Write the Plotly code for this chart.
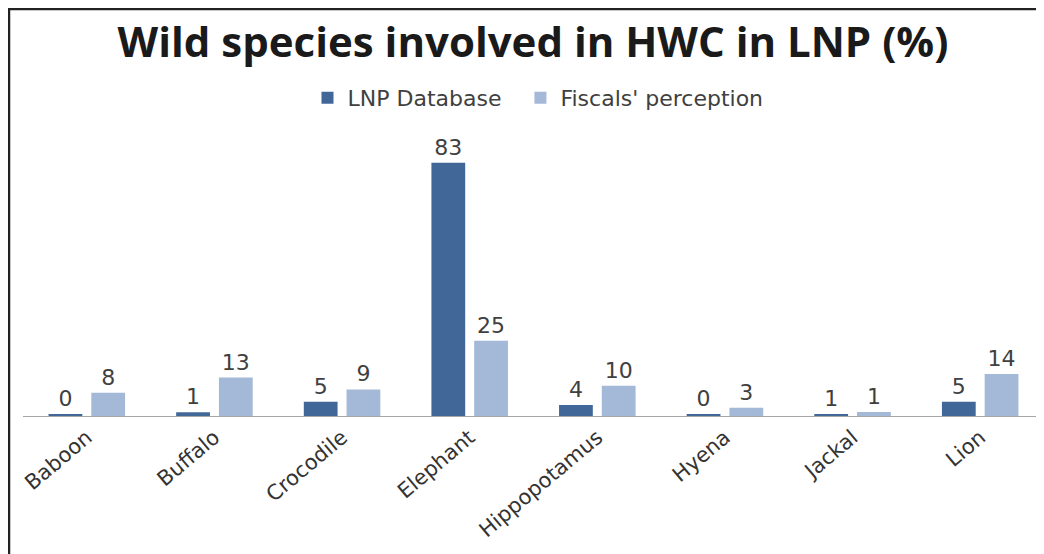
import plotly.graph_objects as go

categories = ["Baboon", "Buffalo", "Crocodile", "Elephant", "Hippopotamus", "Hyena", "Jackal", "Lion"]
lnp_values = [0.6, 1.2, 4.7, 83, 3.6, 0.5, 0.6, 4.7]
lnp_labels = ["0", "1", "5", "83", "4", "0", "1", "5"]
fiscal_values = [7.6, 12.6, 8.7, 24.7, 9.9, 2.7, 1.3, 13.8]
fiscal_labels = ["8", "13", "9", "25", "10", "3", "1", "14"]

DARK = "#416799"
LIGHT = "#a4b8d8"
TXT = "#404040"

fig = go.Figure()
fig.add_trace(go.Bar(
    x=categories, y=lnp_values, name="LNP Database\u00a0\u00a0",
    marker=dict(color=DARK, line=dict(width=0)),
    text=lnp_labels, textposition="outside", cliponaxis=False,
    textfont=dict(family="DejaVu Sans", size=22, color=TXT),
))
fig.add_trace(go.Bar(
    x=categories, y=fiscal_values, name="Fiscals' perception",
    marker=dict(color=LIGHT, line=dict(width=0)),
    text=fiscal_labels, textposition="outside", cliponaxis=False,
    textfont=dict(family="DejaVu Sans", size=22, color=TXT),
))

# page has an 8px body margin, so the figure is drawn at (8, 8)
W, H = 1036, 546
L, T, B = 15, 132, 138
pw = W - L
ph = H - T - B

def px_x(x):
    return (x - L) / pw

def px_y(y):
    return (H - B - y) / ph

fig.update_layout(
    width=W, height=H,
    margin=dict(l=L, r=0, t=T, b=B, pad=0),
    paper_bgcolor="white", plot_bgcolor="white",
    barmode="group", bargap=0.33, bargroupgap=0.21,
    title=dict(
        text="<b>Wild species involved in HWC in LNP (%)</b>",
        font=dict(family="Open Sans", size=42, color="#1a1a1a"),
        x=525 / W, xanchor="center", y=1 - 34 / H, yanchor="middle",
        xref="container", yref="container",
    ),
    legend=dict(
        orientation="h", x=px_x(530), xanchor="center",
        y=px_y(90), yanchor="middle",
        font=dict(family="DejaVu Sans", size=22, color=TXT),
        bgcolor="rgba(0,0,0,0)",
    ),
    showlegend=True,
    xaxis=dict(
        showline=True, linecolor="#a6a6a6", linewidth=1,
        showgrid=False, ticks="", tickangle=-40,
        tickfont=dict(family="DejaVu Sans", size=21, color="#333333"),
        range=[-0.5, 7.5],
    ),
    yaxis=dict(
        visible=False, range=[0, (H - B - T) / 3.05], showgrid=False, zeroline=False,
    ),
    shapes=[
        dict(type="line", xref="paper", yref="paper",
             x0=px_x(1), x1=px_x(1), y0=px_y(0), y1=px_y(H + 10),
             line=dict(color="#222222", width=2.5)),
        dict(type="line", xref="paper", yref="paper",
             x0=px_x(0), x1=px_x(W + 10), y0=px_y(1), y1=px_y(1),
             line=dict(color="#222222", width=2.5)),
    ],
)

fig.write_html("out.html")
